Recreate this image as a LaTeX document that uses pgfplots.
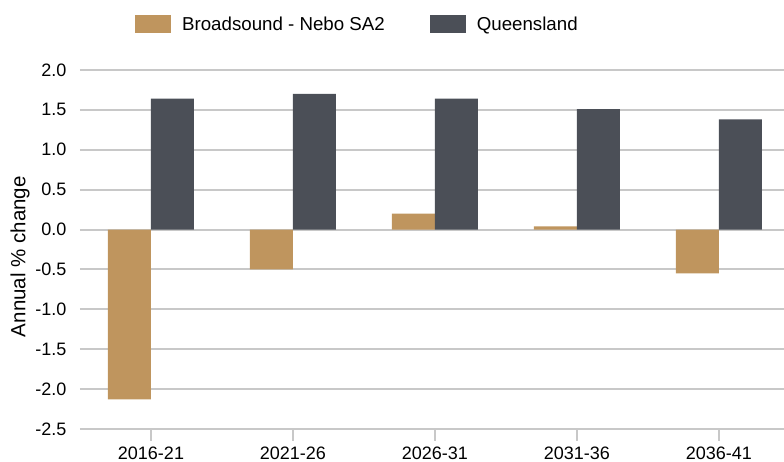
\documentclass[border=0pt]{standalone}
\usepackage{fontspec}
\setmainfont{Liberation Sans}
\usepackage{pgfplots}
\pgfplotsset{compat=1.18}
\definecolor{brn}{HTML}{BF955E}
\definecolor{drk}{HTML}{4B4F57}
\definecolor{grd}{HTML}{C8C8C8}
\begin{document}
\begin{tikzpicture}[font=\fontsize{18}{21}\selectfont]
\begin{axis}[
  at={(0pt,0pt)}, anchor=south west,
  width=704pt, height=359pt, scale only axis,
  xmin=-0.5, xmax=4.458, ymin=-2.5, ymax=2.0,
  axis line style={draw=none},
  ybar, bar width=43pt,
  tick pos=left,
  ytick={-2.5,-2,-1.5,-1,-0.5,0,0.5,1,1.5,2},
  yticklabel style={/pgf/number format/fixed, /pgf/number format/fixed zerofill, /pgf/number format/precision=1, inner sep=0pt, anchor=east, xshift=-1.5pt},
  /pgf/number format/assume math mode=true,
  ytick style={draw=none},
  xtick={0,1,2,3,4},
  xticklabels={2016-21,2021-26,2026-31,2031-36,2036-41},
  xtick style={grd, line width=2pt},
  xticklabel style={inner sep=0pt, anchor=north, yshift=-6pt},
  tick align=outside, major tick length=12pt,
  ymajorgrids, grid style={grd, line width=2pt},
  ylabel={Annual \% change},
  ylabel style={at={(axis description cs:-0.085,0.48)}, anchor=center, font=\fontsize{20.5}{24}\selectfont},
  legend columns=2,
  legend style={at={(rel axis cs:0.078,1.127)}, anchor=west, draw=none, fill=none, inner sep=0pt,
    font=\fontsize{18.7}{22}\selectfont,
    nodes={inner sep=0pt},
    /tikz/every odd column/.append style={column sep=11pt},
    /tikz/every even column/.append style={column sep=45pt}},
  legend image code/.code={\fill[#1] (0pt,-9pt) rectangle (36pt,9pt);},
]
\addplot[fill=brn, draw=none, bar shift=-21.5pt] coordinates {(0,-2.13) (1,-0.50) (2,0.20) (3,0.04) (4,-0.55)};
\addlegendentry{Broadsound - Nebo SA2}
\addplot[fill=drk, draw=none, bar shift=21.5pt] coordinates {(0,1.64) (1,1.70) (2,1.64) (3,1.51) (4,1.38)};
\addlegendentry{Queensland}
\end{axis}
\pgfresetboundingbox
\path[use as bounding box] (-80pt,-33pt) rectangle (704pt,429pt);
\end{tikzpicture}
\end{document}
